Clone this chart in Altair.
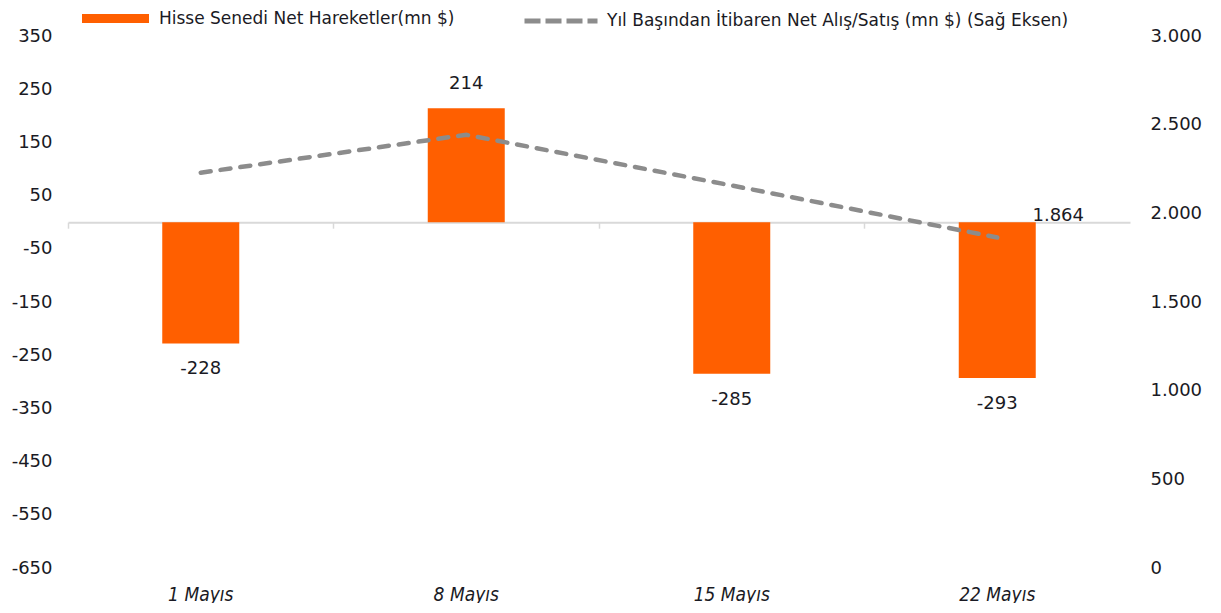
import altair as alt
import pandas as pd

# ---- data ----
dates = ["1 Mayıs", "8 Mayıs", "15 Mayıs", "22 Mayıs"]
net_flows = [-228, 214, -285, -293]
ytd_cum = [2229, 2443, 2157, 1864]
show_line_label = [False, False, False, True]
left_ticks = [-650, -550, -450, -350, -250, -150, -50, 50, 150, 250, 350]
right_ticks = [0, 500, 1000, 1500, 2000, 2500, 3000]
bar_name = "Hisse Senedi Net Hareketler(mn $)"
line_name = "Yıl Başından İtibaren Net Alış/Satış (mn $) (Sağ Eksen)"

df = pd.DataFrame({
    "date": dates,
    "net": net_flows,
    "cum": ytd_cum,
    "lab": show_line_label,
    "s1": [bar_name] * 4,
    "s2": [line_name] * 4,
})

W, H = 1062, 532
FONT = "DejaVu Sans"
XFONT = "DejaVu Sans Condensed, Liberation Sans Narrow, DejaVu Sans"
TXT = "#1a1a24"
ORANGE = "#FF5F00"
GREY = "#8C8C8C"
ZERO_OFF = -(H * 650 / 1000)
TR = "replace(format(datum.value, ','), ',', '.')"

xscale = alt.Scale(domain=dates, paddingInner=0, paddingOuter=0)
yl_scale = alt.Scale(domain=[-650, 350], nice=False, zero=False)
yr_scale = alt.Scale(domain=[0, 3000], nice=False)

x_bottom = alt.X("date:N", scale=xscale, sort=dates, title=None,
                 axis=alt.Axis(orient="bottom", domain=False, ticks=False, grid=False,
                               labelAngle=0, labelFont=XFONT, labelFontSize=19,
                               labelFontStyle="italic", labelColor=TXT, labelPadding=17))
x_zero = alt.X("date:N", scale=xscale, sort=dates, title=None,
               axis=alt.Axis(orient="bottom", offset=ZERO_OFF, labels=False, grid=False,
                             domain=True, domainColor="#D9D9D9", domainWidth=2,
                             ticks=True, tickColor="#D9D9D9", tickWidth=1.5, tickSize=6,
                             bandPosition=0))
y_left = alt.Y("net:Q", scale=yl_scale, title=None,
               axis=alt.Axis(values=left_ticks, domain=False, ticks=False, grid=False,
                             labelExpr="'' + datum.value",
                             labelFont=FONT, labelFontSize=18, labelColor=TXT, labelPadding=16))
y_right = alt.Y("cum:Q", scale=yr_scale, title=None,
                axis=alt.Axis(orient="right", values=right_ticks, labelExpr=TR,
                              domain=False, ticks=False, grid=False,
                              labelFont=FONT, labelFontSize=18, labelColor=TXT, labelPadding=20))

base = alt.Chart(df)

bars = base.mark_bar(width=77).encode(
    x=x_bottom,
    y=y_left,
    fill=alt.Fill("s1:N", scale=alt.Scale(domain=[bar_name], range=[ORANGE]),
                  legend=alt.Legend(title=None, orient="none", legendX=14, legendY=-51,
                                    symbolType="M-1,-0.134H1V0.134H-1Z", symbolSize=4489,
                                    symbolStrokeWidth=0, labelFont=FONT, labelFontSize=17,
                                    labelColor=TXT, labelOffset=10, labelLimit=0, padding=0)),
)
bar_lbl = "'' + datum.net"
pos_text = base.transform_filter("datum.net >= 0").transform_calculate(
    txt=bar_lbl
).mark_text(
    dy=-24, baseline="middle", align="center", font=FONT, fontSize=18, color=TXT
).encode(x=x_bottom, y=y_left, text="txt:N")
neg_text = base.transform_filter("datum.net < 0").transform_calculate(
    txt=bar_lbl
).mark_text(
    dy=26, baseline="middle", align="center", font=FONT, fontSize=18, color=TXT
).encode(x=x_bottom, y=y_left, text="txt:N")

line = base.mark_line(strokeWidth=4.5, strokeDash=[10, 10], strokeCap="round").encode(
    x=x_zero,
    y=y_right,
    stroke=alt.Stroke("s2:N", scale=alt.Scale(domain=[line_name], range=[GREY]),
                      legend=alt.Legend(title=None, orient="none", legendX=454, legendY=-54,
                                        symbolType="stroke", symbolSize=5329,
                                        symbolStrokeWidth=5, symbolDash=[16, 5],
                                        labelFont=FONT, labelFontSize=17, labelColor=TXT,
                                        labelOffset=7, labelLimit=0, padding=0)),
)
line_text = base.transform_filter("datum.lab").transform_calculate(
    txt="replace(format(datum.cum, ','), ',', '.')"
).mark_text(dx=61, dy=-21, baseline="middle", align="center", font=FONT, fontSize=18,
            color=TXT).encode(x=x_zero, y=y_right, text="txt:N")

left = alt.layer(bars, pos_text, neg_text)
right = alt.layer(line, line_text)

chart = alt.layer(left, right).resolve_scale(y="independent").resolve_axis(
    x="independent"
).properties(
    width=W, height=H,
    padding={"left": 60, "top": 28, "right": 80, "bottom": 35},
    autosize=alt.AutoSizeParams(type="none"),
).configure_view(stroke=None)

chart.save("out.html", embed_options={"renderer": "svg", "actions": False})
